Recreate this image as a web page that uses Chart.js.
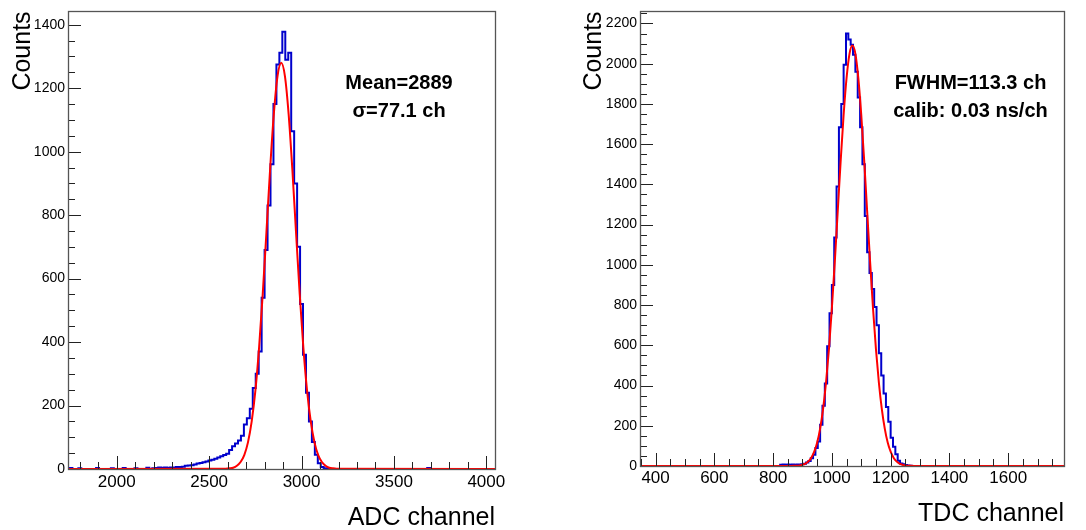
<!DOCTYPE html>
<html lang="en">
<head>
  <meta charset="UTF-8">
  <title>ADC / TDC spectra</title>
  <script src="https://cdn.jsdelivr.net/npm/chart.js"></script>
  <style>
    body {
      margin: 0;
      background-color: #fff;
    }
    .panel {
      position: absolute;
      top: 0;
      width: 543px;
      height: 530px;
    }
    #left { left: 0; }
    #right { left: 543px; }
  </style>
</head>
<body>
  <div class="panel" id="left"><canvas id="adcChart" width="543" height="530"></canvas></div>
  <div class="panel" id="right"><canvas id="tdcChart" width="543" height="530"></canvas></div>

  <script>
    // ---- ADC spectrum (left), 16 channel bins ----
    const adcFirstEdge = 2192;
    const adcBinWidth = 16;
    const adcCounts = [
      2, 3, 5, 4, 5, 4, 5, 5, 6, 6, 7, 10, 11, 12, 14, 17, 19, 21, 24, 27,
      29, 32, 36, 40, 44, 48, 60, 72, 80, 90, 105, 140, 160, 190, 255, 300, 370, 540, 690, 830,
      960, 1150, 1275, 1312, 1378, 1290, 1312, 1064, 900, 700, 520, 360, 240, 150, 85, 45, 18, 6, 2
    ];
    // isolated single bins far from the peak
    const adcStrayEdges = [1744, 1792, 1888, 1968, 2032, 2096, 2160, 3680];
    const adcStrayCounts = [3, 2, 3, 2, 3, 2, 4, 3];
    // gaussian fit
    const adcFitX = [2590, 2610, 2630, 2650, 2670, 2690, 2710, 2730, 2750, 2770, 2790, 2810, 2830, 2850, 2870,
                     2890, 2910, 2930, 2950, 2970, 2990, 3010, 3030, 3050, 3070, 3090, 3110, 3130, 3150, 3170, 3190];
    const adcFitY = [1, 2, 4, 10, 22, 44, 84, 149, 246, 381, 552, 747, 946, 1119, 1238,
                     1280, 1238, 1119, 946, 747, 552, 381, 246, 149, 84, 44, 22, 10, 4, 2, 1];
    const adcXRange = [1736, 4047];
    const adcYRange = [0, 1442];
    const adcXTicks = [2000, 2500, 3000, 3500, 4000];
    const adcYTicks = [0, 200, 400, 600, 800, 1000, 1200, 1400];

    // ---- TDC spectrum (right), 8 channel bins ----
    const tdcFirstEdge = 824;
    const tdcBinWidth = 8;
    const tdcCounts = [
      6, 7, 6, 7, 6, 7, 6, 8, 7, 9, 11, 18, 25, 38, 56, 90, 122, 205, 300, 410,
      595, 760, 900, 1136, 1390, 1684, 1800, 1995, 2150, 2120, 2094, 2045, 1960, 1832, 1684, 1500, 1243, 1063, 960, 880,
      790, 700, 560, 450, 361, 293, 220, 141, 96, 59, 26, 12, 9, 5, 3, 1
    ];
    const tdcStrayEdges = [];
    const tdcStrayCounts = [];
    const tdcFitX = [860, 870, 880, 890, 900, 910, 920, 930, 940, 950, 960, 970, 980, 990, 1000, 1010, 1020, 1030, 1040, 1050, 1060,
                     1070, 1080, 1090, 1100, 1110, 1120, 1130, 1140, 1150, 1160, 1170, 1180, 1190, 1200, 1210, 1220, 1230, 1240, 1250, 1260, 1270, 1280];
    const tdcFitY = [0.3, 0.7, 1.5, 3, 6.5, 12, 23, 41, 71, 117, 186, 283, 414, 581, 784, 1017, 1268, 1518, 1746, 1929, 2049,
                     2090, 2049, 1929, 1746, 1518, 1268, 1017, 784, 581, 414, 283, 186, 117, 71, 41, 23, 12, 6.5, 3, 1.5, 0.7, 0.3];
    const tdcXRange = [347, 1790];
    const tdcYRange = [0, 2260];
    const tdcXTicks = [400, 600, 800, 1000, 1200, 1400, 1600];
    const tdcYTicks = [0, 200, 400, 600, 800, 1000, 1200, 1400, 1600, 1800, 2000, 2200];

    const FONT = '"Liberation Sans", Arial, Helvetica, sans-serif';

    // stepped points: each point sits on a bin's left edge
    function histPoints(firstEdge, width, counts, strayEdges, strayCounts, range) {
      const bins = new Map();
      counts.forEach((c, i) => bins.set(firstEdge + i * width, c));
      strayEdges.forEach((e, i) => bins.set(e, strayCounts[i]));
      const edges = [...bins.keys()].sort((a, b) => a - b);
      const pts = [{ x: range[0], y: 0 }];
      edges.forEach(e => {
        pts.push({ x: e, y: bins.get(e) });
        if (!bins.has(e + width)) pts.push({ x: e + width, y: 0 });
      });
      pts.push({ x: range[1], y: 0 });
      return pts;
    }

    function curvePoints(xs, ys, range) {
      const pts = [{ x: range[0], y: 0 }];
      xs.forEach((x, i) => pts.push({ x: x, y: ys[i] }));
      pts.push({ x: range[1], y: 0 });
      return pts;
    }

    // ROOT style frame with inward ticks
    const frameTicks = {
      id: 'frameTicks',
      afterDatasetsDraw(chart, args, opts) {
        const { ctx, chartArea: a, scales: { x, y } } = chart;
        ctx.save();
        ctx.strokeStyle = '#222';
        ctx.lineWidth = 1;
        ctx.beginPath();
        for (let v = Math.ceil(x.min / opts.xMinor) * opts.xMinor; v <= x.max; v += opts.xMinor) {
          const px = Math.round(x.getPixelForValue(v)) + 0.5;
          const len = opts.xMajors.includes(v) ? opts.majorLen : opts.minorLen;
          ctx.moveTo(px, a.bottom);
          ctx.lineTo(px, a.bottom - len);
        }
        for (let v = Math.ceil(y.min / opts.yMinor) * opts.yMinor; v <= y.max; v += opts.yMinor) {
          const py = Math.round(y.getPixelForValue(v)) + 0.5;
          const len = opts.yMajors.includes(v) ? opts.majorLen : opts.minorLen;
          ctx.moveTo(a.left, py);
          ctx.lineTo(a.left + len, py);
        }
        ctx.stroke();
        ctx.strokeStyle = '#555';
        ctx.lineWidth = 1.3;
        ctx.strokeRect(Math.round(a.left) + 0.5, Math.round(a.top) + 0.5,
                       Math.round(a.right - a.left), Math.round(a.bottom - a.top));
        ctx.restore();
      }
    };

    const annotations = {
      id: 'annotations',
      afterDraw(chart, args, opts) {
        const ctx = chart.ctx;
        ctx.save();
        ctx.font = 'bold 20px ' + FONT;
        ctx.fillStyle = '#000';
        ctx.textAlign = 'center';
        ctx.textBaseline = 'middle';
        opts.lines.forEach((t, i) => ctx.fillText(t, opts.x, opts.y + i * opts.step));
        ctx.restore();
      }
    };

    function makeChart(canvasId, c) {
      return new Chart(document.getElementById(canvasId), {
        type: 'line',
        data: {
          datasets: [
            {
              label: 'fit',
              data: curvePoints(c.fitX, c.fitY, c.xRange),
              borderColor: '#ff0000',
              borderWidth: 2,
              pointRadius: 0,
              fill: false,
              cubicInterpolationMode: 'monotone',
              order: 0
            },
            {
              label: 'data',
              data: c.hist,
              borderColor: '#0000cc',
              borderWidth: 2,
              pointRadius: 0,
              fill: false,
              stepped: 'before',
              order: 1
            }
          ]
        },
        options: {
          responsive: false,
          animation: false,
          events: [],
          layout: { padding: c.padding },
          plugins: {
            legend: { display: false },
            tooltip: { enabled: false },
            frameTicks: {
              xMinor: c.xMinor, yMinor: c.yMinor,
              xMajors: c.xTicks, yMajors: c.yTicks,
              majorLen: 13, minorLen: 7
            },
            annotations: c.note
          },
          scales: {
            x: {
              type: 'linear',
              min: c.xRange[0],
              max: c.xRange[1],
              afterFit: s => { s.height = c.xHeight; },
              afterBuildTicks: s => { s.ticks = c.xTicks.map(v => ({ value: v })); },
              grid: { display: false, drawTicks: false },
              border: { display: false },
              ticks: {
                autoSkip: false,
                maxRotation: 0,
                padding: c.xTickPad,
                color: '#000',
                font: { family: FONT, size: 17 },
                callback: v => String(v)
              },
              title: {
                display: true,
                text: c.xTitle,
                align: 'end',
                color: '#000',
                font: { family: FONT, size: 25, lineHeight: 1 },
                padding: { top: 0, bottom: c.xTitlePad }
              }
            },
            y: {
              min: c.yRange[0],
              max: c.yRange[1],
              afterFit: s => { s.width = c.yWidth; },
              afterBuildTicks: s => { s.ticks = c.yTicks.map(v => ({ value: v })); },
              grid: { display: false, drawTicks: false },
              border: { display: false },
              ticks: {
                autoSkip: false,
                padding: 3,
                color: '#000',
                font: { family: FONT, size: 14 },
                callback: v => String(v)
              },
              title: {
                display: true,
                text: 'Counts',
                align: 'end',
                color: '#000',
                font: { family: FONT, size: 25, lineHeight: 1 },
                padding: { top: c.yTitlePad, bottom: 0 }
              }
            }
          }
        },
        plugins: [frameTicks, annotations]
      });
    }

    makeChart('adcChart', {
      hist: histPoints(adcFirstEdge, adcBinWidth, adcCounts, adcStrayEdges, adcStrayCounts, adcXRange),
      fitX: adcFitX, fitY: adcFitY,
      xRange: adcXRange, yRange: adcYRange,
      xTicks: adcXTicks, yTicks: adcYTicks,
      xMinor: 100, yMinor: 50,
      padding: { left: 0, right: 48, top: 9, bottom: 0 },
      yWidth: 68, xHeight: 61,
      xTickPad: 3, xTitle: 'ADC channel', xTitlePad: -0.5, yTitlePad: 11,
      note: { lines: ['Mean=2889', 'σ=77.1 ch'], x: 399, y: 83, step: 28 }
    });

    makeChart('tdcChart', {
      hist: histPoints(tdcFirstEdge, tdcBinWidth, tdcCounts, tdcStrayEdges, tdcStrayCounts, tdcXRange),
      fitX: tdcFitX, fitY: tdcFitY,
      xRange: tdcXRange, yRange: tdcYRange,
      xTicks: tdcXTicks, yTicks: tdcYTicks,
      xMinor: 50, yMinor: 50,
      padding: { left: 0, right: 22, top: 6, bottom: 0 },
      yWidth: 97, xHeight: 64,
      xTickPad: 2, xTitle: 'TDC channel', xTitlePad: 3, yTitlePad: 38.5,
      note: { lines: ['FWHM=113.3 ch', 'calib: 0.03 ns/ch'], x: 427.5, y: 83, step: 28 }
    });
  </script>
</body>
</html>
